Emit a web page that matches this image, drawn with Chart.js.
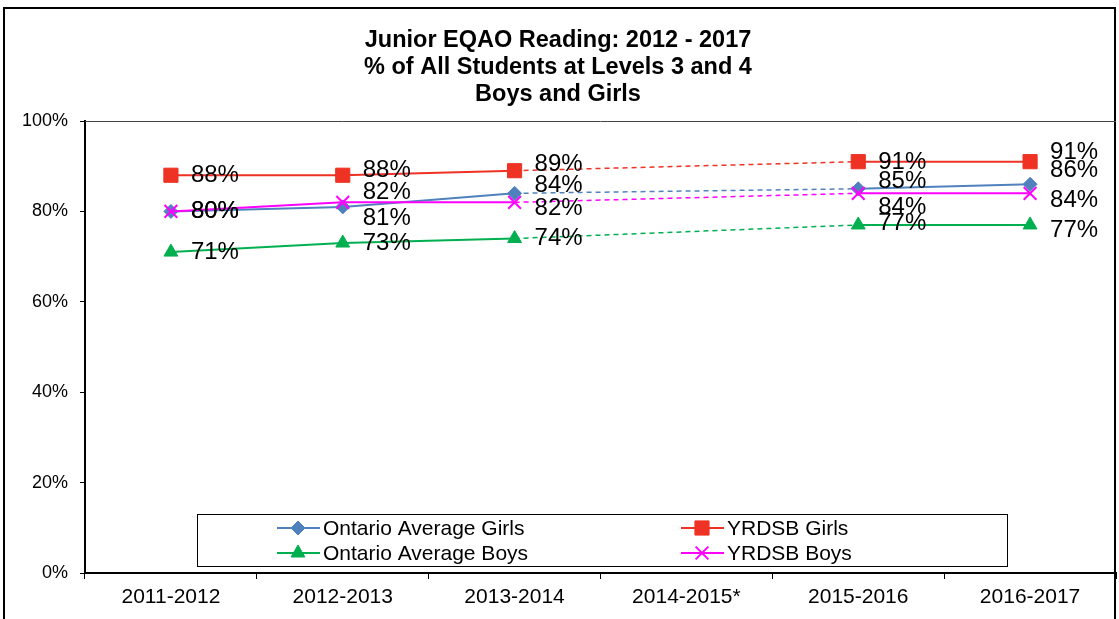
<!DOCTYPE html>
<html>
<head>
<meta charset="utf-8">
<script src="https://cdn.jsdelivr.net/npm/chart.js@4/dist/chart.umd.min.js"></script>
<style>
  body { margin: 0; background: #fff; }
  canvas { display: block; }
</style>
</head>
<body>
<canvas id="grafico" width="1119" height="619"></canvas>
<script>
// datos (2014-2015 sin datos)
var years = ['2011-2012', '2012-2013', '2013-2014', '2014-2015*', '2015-2016', '2016-2017'];
var ontarioGirls = [80, 81, 84, null, 85, 86];
var yrdsbGirls   = [88, 88, 89, null, 91, 91];
var ontarioBoys  = [71, 73, 74, null, 77, 77];
var yrdsbBoys    = [80, 82, 82, null, 84, 84];
var yTicks = [0, 20, 40, 60, 80, 100];

// desplazamiento vertical de las etiquetas (como en el original)
var labelShift = [
  [0, 11, -8, 0, -7, -14],
  [0, -5, -6, 0, 1, -9],
  [0, 0, 0, 0, -2, 5],
  [0, -10, 6, 0, 14, 7]
];

var FONT = "'Liberation Sans', Arial, sans-serif";

function serie(label, data, color, style, radius, order) {
  // tramo que salta un hueco -> linea discontinua
  function gap(ctx) {
    return data[ctx.p0DataIndex] === null || data[ctx.p1DataIndex] === null;
  }
  return {
    label: label,
    data: data,
    order: order,
    borderColor: color,
    backgroundColor: color,
    pointBackgroundColor: color,
    pointBorderColor: color,
    pointStyle: style,
    pointRadius: radius,
    pointHoverRadius: radius,
    pointBorderWidth: style === 'crossRot' ? 2 : 1,
    borderWidth: 2,
    spanGaps: true,
    tension: 0,
    segment: {
      borderDash: function (ctx) { return gap(ctx) ? [5, 4] : undefined; },
      borderWidth: function (ctx) { return gap(ctx) ? 1.5 : undefined; }
    }
  };
}

// marco exterior y borde del area de trazado
var marco = {
  id: 'marco',
  afterDraw: function (chart) {
    var c = chart.ctx, a = chart.chartArea;
    c.save();
    c.strokeStyle = '#000';
    c.lineWidth = 2;
    c.beginPath();
    c.moveTo(4, 640); c.lineTo(4, 8); c.lineTo(1115, 8); c.lineTo(1115, 640);
    c.stroke();
    c.strokeStyle = '#444';
    c.lineWidth = 1;
    c.beginPath();
    c.moveTo(a.left, a.top + 0.5); c.lineTo(a.right, a.top + 0.5);
    c.stroke();
    c.restore();
  }
};

// etiquetas de valores
var etiquetas = {
  id: 'etiquetas',
  afterDatasetsDraw: function (chart) {
    var c = chart.ctx;
    c.save();
    c.font = '24px ' + FONT;
    c.fillStyle = '#000';
    c.textAlign = 'left';
    c.textBaseline = 'middle';
    chart.data.datasets.forEach(function (ds, i) {
      var meta = chart.getDatasetMeta(i);
      meta.data.forEach(function (pt, j) {
        if (ds.data[j] === null) return;
        c.fillText(ds.data[j] + '%', pt.x + 20, pt.y + labelShift[i][j]);
      });
    });
    c.restore();
  }
};

// leyenda dentro del grafico, en dos columnas
var leyenda = {
  id: 'leyenda',
  afterDraw: function (chart) {
    var c = chart.ctx;
    var box = { x: 197, y: 514, w: 810, h: 52 };
    c.save();
    c.fillStyle = '#fff';
    c.fillRect(box.x, box.y, box.w, box.h);
    c.strokeStyle = '#000';
    c.lineWidth = 1;
    c.strokeRect(box.x + 0.5, box.y + 0.5, box.w, box.h);
    var cols = [277, 681];
    var rows = [528, 553];
    c.font = '21px ' + FONT;
    c.textBaseline = 'middle';
    chart.data.datasets.forEach(function (ds, i) {
      var x = cols[i % 2], y = rows[Math.floor(i / 2)];
      c.strokeStyle = ds.borderColor;
      c.lineWidth = 2;
      c.beginPath();
      c.moveTo(x, y); c.lineTo(x + 43, y);
      c.stroke();
      c.fillStyle = ds.backgroundColor;
      c.lineWidth = ds.pointBorderWidth;
      Chart.helpers.drawPoint(c, {
        pointStyle: ds.pointStyle,
        radius: ds.pointRadius,
        borderWidth: ds.pointBorderWidth,
        rotation: 0
      }, x + 21, y);
      c.fillStyle = '#000';
      c.fillText(ds.label, x + 46, y + 1);
    });
    c.restore();
  }
};

var config = {
  type: 'line',
  data: {
    labels: years,
    datasets: [
      serie('Ontario Average Girls', ontarioGirls, '#4F81BD', 'rectRot', 7, 4),
      serie('YRDSB Girls', yrdsbGirls, '#EE3224', 'rect', 10, 3),
      serie('Ontario Average Boys', ontarioBoys, '#00B050', 'triangle', 8, 2),
      serie('YRDSB Boys', yrdsbBoys, '#FF00FF', 'crossRot', 9, 1)
    ]
  },
  options: {
    responsive: false,
    animation: false,
    layout: { autoPadding: false, padding: { left: 0, right: 3, top: 0, bottom: 0 } },
    plugins: {
      legend: { display: false },
      tooltip: { enabled: false },
      title: {
        display: true,
        text: ['Junior EQAO Reading: 2012 - 2017', '% of All Students at Levels 3 and 4', 'Boys and Girls'],
        color: '#000',
        font: { family: FONT, size: 23.5, weight: 'bold', lineHeight: '27px' },
        padding: { top: 27, bottom: 13 }
      }
    },
    scales: {
      x: {
        offset: true,
        grid: { offset: true, drawOnChartArea: false, drawTicks: true, tickLength: 6, color: '#000' },
        border: { color: '#000', width: 2 },
        ticks: { color: '#000', padding: 6, font: { family: FONT, size: 21 } },
        afterFit: function (s) { s.height = 46; s.paddingLeft = 0; s.paddingRight = 0; }
      },
      y: {
        min: 0,
        max: 100,
        afterBuildTicks: function (s) { s.ticks = yTicks.map(function (v) { return { value: v }; }); },
        grid: { drawOnChartArea: false, drawTicks: true, tickLength: 5, color: '#000' },
        border: { color: '#000', width: 2 },
        ticks: {
          color: '#000',
          padding: 12,
          font: { family: FONT, size: 18 },
          callback: function (v) { return v + '%'; }
        },
        afterFit: function (s) { s.width = 85; }
      }
    }
  },
  plugins: [marco, etiquetas, leyenda]
};

var chart = new Chart(document.getElementById('grafico').getContext('2d'), config);
</script>
</body>
</html>
